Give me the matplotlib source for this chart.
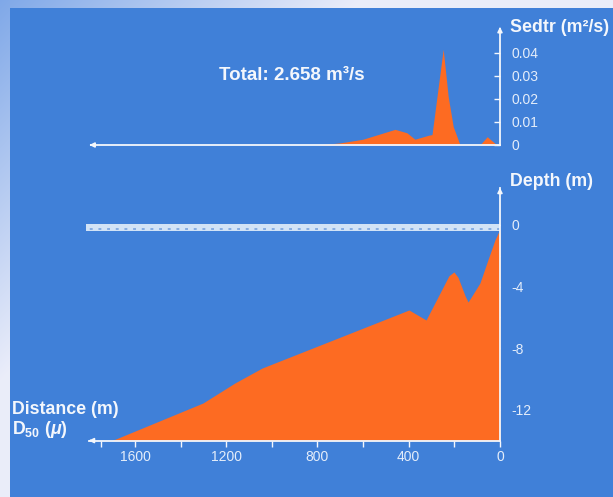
import matplotlib
matplotlib.use("Agg")
import matplotlib.pyplot as plt
import numpy as np
from matplotlib.patches import Rectangle

plt.rcParams['font.family'] = ['Liberation Sans', 'DejaVu Sans']
plt.rcParams['mathtext.fontset'] = 'custom'
plt.rcParams['mathtext.rm'] = 'Liberation Sans:bold'
plt.rcParams['mathtext.it'] = 'Liberation Sans:bold:italic'
plt.rcParams['mathtext.bf'] = 'Liberation Sans:bold'

# ---------------- data ----------------
sed_dist = [1806, 800, 701, 601, 460, 408, 373, 311, 298, 249, 227, 205, 175, 88, 56, 14, 0]
sed_val = [0, 0, 0.0009, 0.0025, 0.0068, 0.0053, 0.0025, 0.0043, 0.0045, 0.0416,
           0.021, 0.008, 0, 0, 0.0036, 0, 0]

depth_dist = [1701, 1302, 1162, 1043, 399, 324, 224, 202, 184, 153, 140, 127, 88, 53, 22, 0]
depth_val = [-14.0, -11.56, -10.26, -9.29, -5.52, -6.17, -3.3, -3.05, -3.4, -4.6, -5.0,
             -4.7, -3.77, -2.27, -0.97, -0.26]

sed_ticks = [0, 0.01, 0.02, 0.03, 0.04]
sed_ticklabels = ["0", "0.01", "0.02", "0.03", "0.04"]
depth_ticks = [-12, -8, -4, 0]
depth_ticklabels = ["-12", "-8", "-4", "0"]
depth_minor = [-10, -6, -2]
dist_ticks = [0, 400, 800, 1200, 1600]
dist_ticklabels = ["0", "400", "800", "1200", "1600"]
dist_minor = [200, 600, 1000, 1400, 1750]

total_text = "Total: 2.658 m³/s"

# ---------------- style ----------------
W, H = 613, 497
BLUE = '#4080d8'
ORANGE = '#fd6b22'
WHITE = '#f4f7fc'
TICKC = '#e4edfa'
WATER = '#d2e3f6'
XLIM = (1841, -175.4)

fig = plt.figure(figsize=(W / 100, H / 100), dpi=100)

# background gradient + blue panel
bg = fig.add_axes([0, 0, 1, 1], zorder=-10)
bg.axis('off')
yy, xx = np.mgrid[0:H, 0:W]
t = np.clip(xx / 360 + yy / 380, 0, 1)[..., None]
c0 = np.array([0.50, 0.66, 0.91])
c1 = np.array([0.92, 0.93, 0.98])
img = c0 * (1 - t) + c1 * t
bg.imshow(img, extent=[0, W, H, 0], aspect='auto', zorder=0)
bg.add_patch(Rectangle((10, 8), W, H, facecolor=BLUE, edgecolor='none', zorder=1))
bg.set_xlim(0, W)
bg.set_ylim(H, 0)

# ---------------- depth axes ----------------
axd = fig.add_axes([80 / W, 27 / H, 460 / W, 300 / H])
axd.patch.set_alpha(0)
axd.set_xlim(*XLIM)
axd.set_ylim(-15.91, 3.57)
axd.fill_between(depth_dist, depth_val, -14, color=ORANGE, lw=0, zorder=2)

# water surface band
axd.fill_between([0, 1815], -0.38, 0.06, color=WATER, lw=0, zorder=3)
axd.plot([0, 1815], [-0.25, -0.25], color='#7fa8e0', lw=1.3, dashes=(1.6, 3.2),
         solid_capstyle='butt', zorder=3.5)

for s in ['top', 'left']:
    axd.spines[s].set_visible(False)
axd.spines['right'].set_position(('data', 0))
axd.spines['right'].set_bounds(-14, 2.4)
axd.spines['bottom'].set_position(('data', -14))
axd.spines['bottom'].set_bounds(0, 1800)
for s in ['right', 'bottom']:
    axd.spines[s].set_color(WHITE)
    axd.spines[s].set_linewidth(1.3)
    axd.spines[s].set_zorder(4)
axd.yaxis.tick_right()
axd.set_yticks(depth_ticks)
axd.set_yticklabels(depth_ticklabels)
axd.set_yticks(depth_minor, minor=True)
axd.tick_params(axis='y', which='both', direction='in', length=4, width=1,
                color=WHITE, labelcolor=TICKC, labelsize=10, pad=8)
axd.set_xticks(dist_ticks)
axd.set_xticklabels(dist_ticklabels)
axd.set_xticks(dist_minor, minor=True)
axd.tick_params(axis='x', which='both', direction='out', length=4, width=1,
                color=WHITE, labelcolor=TICKC, labelsize=10, pad=3)
axd.annotate('', xy=(1815, -14), xytext=(1780, -14),
             arrowprops=dict(arrowstyle='-|>', color=WHITE, lw=1.2, mutation_scale=7))
axd.annotate('', xy=(0, 2.6), xytext=(0, 2.0),
             arrowprops=dict(arrowstyle='-|>', color=WHITE, lw=1.2, mutation_scale=7))

# ---------------- sediment transport axes ----------------
axs = fig.add_axes([80 / W, 337 / H, 460 / W, 140 / H])
axs.patch.set_alpha(0)
axs.set_xlim(*XLIM)
axs.set_ylim(-0.00652, 0.0543)
axs.fill_between(sed_dist, sed_val, 0, color=ORANGE, lw=0, zorder=2)
for s in ['top', 'left']:
    axs.spines[s].set_visible(False)
axs.spines['right'].set_position(('data', 0))
axs.spines['right'].set_bounds(0, 0.0505)
axs.spines['bottom'].set_position(('data', 0))
axs.spines['bottom'].set_bounds(0, 1790)
for s in ['right', 'bottom']:
    axs.spines[s].set_color(WHITE)
    axs.spines[s].set_linewidth(1.3)
    axs.spines[s].set_zorder(4)
axs.set_xticks([])
axs.yaxis.tick_right()
axs.set_yticks(sed_ticks)
axs.set_yticklabels(sed_ticklabels)
axs.tick_params(axis='y', direction='in', length=4, width=1, color=WHITE,
                labelcolor=TICKC, labelsize=10, pad=8)
axs.annotate('', xy=(1812, 0), xytext=(1780, 0),
             arrowprops=dict(arrowstyle='-|>', color=WHITE, lw=1.2, mutation_scale=7))
axs.annotate('', xy=(0, 0.0525), xytext=(0, 0.049),
             arrowprops=dict(arrowstyle='-|>', color=WHITE, lw=1.2, mutation_scale=7))

# ---------------- texts ----------------
def ftxt(x, y, s, size=12.8, **kw):
    fig.text(x / W, 1 - y / H, s, color=WHITE, fontsize=size, fontweight='bold',
             va='center', **kw)

ftxt(510, 28, "Sedtr (m²/s)", ha='left')
ftxt(510, 182, "Depth (m)", ha='left')
ftxt(292, 76, total_text, size=13.5, ha='center')
ftxt(12, 409, "Distance (m)", ha='left')
ftxt(12, 429, r"$\mathrm{D_{50}}$ ($\mathit{\mu}$)", ha='left')

fig.savefig("out.png", dpi=100)
